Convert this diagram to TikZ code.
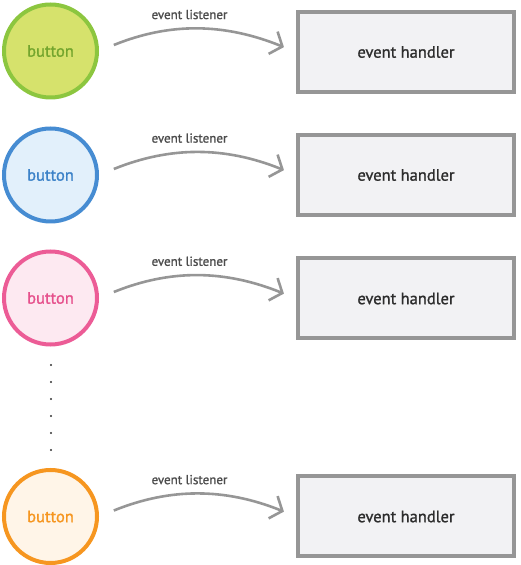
\documentclass[tikz,border=0pt]{standalone}
\usepackage{fontspec}
\setmainfont{PT Sans}
\newfontfamily\semib[FakeBold=1.2]{PT Sans}
\usetikzlibrary{arrows.meta}
\definecolor{gG}{RGB}{140,198,63}\definecolor{gF}{RGB}{214,226,108}\definecolor{gT}{RGB}{115,165,45}
\definecolor{bG}{RGB}{70,140,210}\definecolor{bF}{RGB}{226,240,251}\definecolor{bT}{RGB}{60,130,200}
\definecolor{pG}{RGB}{236,92,150}\definecolor{pF}{RGB}{253,233,241}\definecolor{pT}{RGB}{230,80,140}
\definecolor{oG}{RGB}{246,150,32}\definecolor{oF}{RGB}{255,245,232}\definecolor{oT}{RGB}{246,150,32}
\definecolor{boxG}{RGB}{150,150,150}\definecolor{boxF}{RGB}{242,242,244}
\definecolor{arrG}{RGB}{150,150,150}\definecolor{txtG}{RGB}{45,45,45}
\tikzset{
  btn/.style={circle,line width=4pt,minimum size=93pt,inner sep=0pt,font=\semib\fontsize{16.5}{19}\selectfont},
  handler/.style={rectangle,draw=boxG,fill=boxF,line width=4pt,minimum width=216pt,minimum height=80pt,inner sep=0pt,text=txtG,font=\semib\fontsize{16.5}{19}\selectfont},
  listen/.style={draw=arrG,line width=2.6pt,-{Straight Barb[length=10pt,width=24pt,line width=2.6pt]},shorten <=16pt,shorten >=13pt},
  lbl/.style={text=txtG!85,font=\semib\fontsize{13}{15}\selectfont},
  vdot/.style={circle,fill=black!80,inner sep=0pt,minimum size=2.2pt}
}
\begin{document}
\begin{tikzpicture}[x=1pt,y=1pt]
\useasboundingbox (0,0) rectangle (520,565);
\node[btn,draw=gG,fill=gF,text=gT] (c1) at (50.5,514) {button};
\node[btn,draw=bG,fill=bF,text=bT] (c2) at (50.5,390) {button};
\node[btn,draw=pG,fill=pF,text=pT] (c3) at (50.5,267) {button};
\node[btn,draw=oG,fill=oF,text=oT] (c4) at (50.5,48.5) {button};
\node[handler] (h1) at (406,513) {event handler};
\node[handler] (h2) at (406,390) {event handler};
\node[handler] (h3) at (406,266.5) {event handler};
\node[handler] (h4) at (406,48.5) {event handler};
\foreach \i in {1,2,3,4}{
  \draw[listen] (c\i.east) to[out=22,in=158] node[lbl,midway,above=6pt,xshift=-8pt] (l\i) {event listener} (h\i.west);
}
\foreach \k/\y in {1/365,2/382,3/399,4/416,5/433,6/450}{
  \node[vdot] (d\k) at (51,565-\y) {};
}
\end{tikzpicture}
\end{document}
